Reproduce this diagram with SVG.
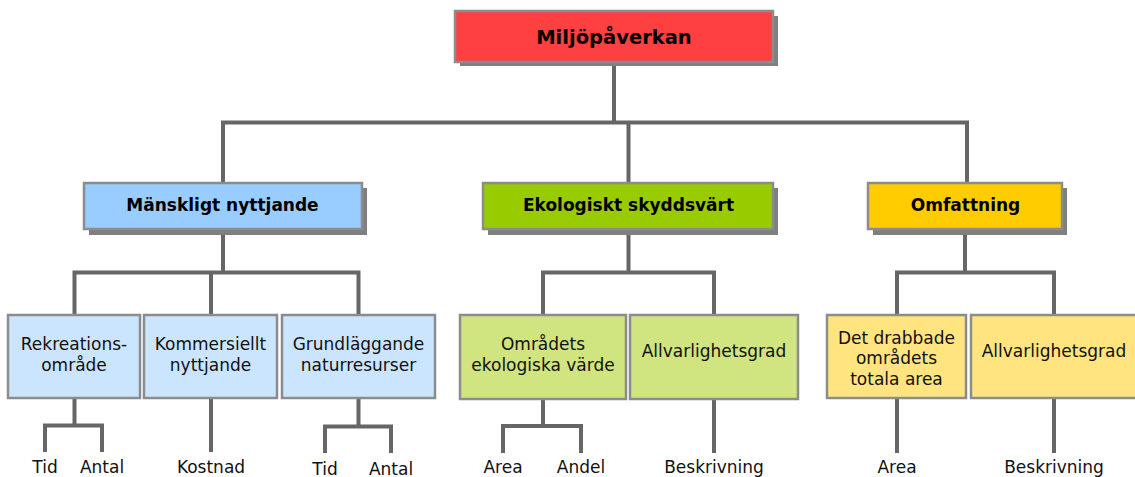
<svg xmlns="http://www.w3.org/2000/svg" width="1135" height="477" viewBox="0 0 1135 477">
<style>
.box{stroke:#8c8c8c;stroke-width:2.5}
.sh{fill:#7f7f7f}
.ln{fill:none;stroke:#666;stroke-width:4;stroke-linejoin:miter}
.tb{font-family:"DejaVu Sans",Verdana,sans-serif;font-weight:bold;fill:#000;text-anchor:middle}
.t{font-family:"DejaVu Sans",Verdana,sans-serif;font-size:17px;fill:#111;text-anchor:middle}
</style>
<rect width="1135" height="477" fill="#fff"/>
<g id="connectors">
<path class="ln" d="M614 62V122.5M223 183V122.5H967V183M628.5 122.5V183"/>
<path class="ln" d="M223 229V272.5M74.5 315V272.5H358.5V315M211 272.5V315"/>
<path class="ln" d="M628.5 229V272.5M543 315V272.5H714V315"/>
<path class="ln" d="M965 229V272.5M897 315V272.5H1054V315"/>
<path class="ln" d="M74.5 398V425.5M45 452V425.5H102V452"/>
<path class="ln" d="M211 398V452"/>
<path class="ln" d="M358.5 398V426.5M325 453V426.5H391V453"/>
<path class="ln" d="M543 399V426M503 453V426H581V453"/>
<path class="ln" d="M714 399V453"/>
<path class="ln" d="M897 398V453"/>
<path class="ln" d="M1054 398V453"/>
</g>
<g id="n-root">
<rect class="sh" x="460" y="16" width="318" height="50"/>
<rect class="box" x="455" y="11" width="318" height="51" fill="#ff4040"/>
<text class="tb" x="614" y="43.5" font-size="19.5">Miljöpåverkan</text>
</g>
<g id="n-mansk">
<rect class="sh" x="89" y="188" width="278" height="47"/>
<rect class="box" x="84" y="183" width="278" height="46" fill="#99ccff"/>
<text class="tb" x="222.5" y="211" font-size="17">Mänskligt nyttjande</text>
</g>
<g id="n-eko">
<rect class="sh" x="488" y="188" width="290" height="47"/>
<rect class="box" x="483" y="183" width="290" height="46" fill="#99cc00"/>
<text class="tb" x="628.5" y="211" font-size="17">Ekologiskt skyddsvärt</text>
</g>
<g id="n-omf">
<rect class="sh" x="873" y="188" width="194" height="47"/>
<rect class="box" x="868" y="183" width="194" height="46" fill="#ffcc00"/>
<text class="tb" x="965.5" y="211" font-size="17">Omfattning</text>
</g>
<g id="n-rekr">
<rect class="box" x="8" y="315" width="132" height="83" fill="#cce5ff"/>
<text class="t" x="74" y="350">Rekreations-</text>
<text class="t" x="74" y="370.5">område</text>
</g>
<g id="n-komm">
<rect class="box" x="144" y="315" width="133" height="83" fill="#cce5ff"/>
<text class="t" x="210.5" y="350">Kommersiellt</text>
<text class="t" x="210.5" y="370.5">nyttjande</text>
</g>
<g id="n-grund">
<rect class="box" x="282" y="315" width="153" height="83" fill="#cce5ff"/>
<text class="t" x="358.5" y="350">Grundläggande</text>
<text class="t" x="358.5" y="370.5">naturresurser</text>
</g>
<g id="n-omr">
<rect class="box" x="460" y="315" width="166" height="84" fill="#d0e47f"/>
<text class="t" x="543" y="350">Områdets</text>
<text class="t" x="543" y="371">ekologiska värde</text>
</g>
<g id="n-allv1">
<rect class="box" x="630" y="315" width="168" height="84" fill="#d0e47f"/>
<text class="t" x="714" y="357">Allvarlighetsgrad</text>
</g>
<g id="n-det">
<rect class="box" x="827" y="315" width="139" height="83" fill="#ffe480"/>
<text class="t" x="896.5" y="343.5">Det drabbade</text>
<text class="t" x="896.5" y="364">områdets</text>
<text class="t" x="896.5" y="385">totala area</text>
</g>
<g id="n-allv2">
<rect class="box" x="971" y="315" width="170" height="83" fill="#ffe480"/>
<text class="t" x="1054" y="357">Allvarlighetsgrad</text>
</g>
<g id="leaves">
<text class="t" x="45" y="473">Tid</text>
<text class="t" x="102" y="473">Antal</text>
<text class="t" x="211" y="473">Kostnad</text>
<text class="t" x="325" y="474.5">Tid</text>
<text class="t" x="391" y="474.5">Antal</text>
<text class="t" x="503" y="473">Area</text>
<text class="t" x="581" y="473">Andel</text>
<text class="t" x="714" y="473">Beskrivning</text>
<text class="t" x="897" y="473">Area</text>
<text class="t" x="1054" y="473">Beskrivning</text>
</g>
</svg>
